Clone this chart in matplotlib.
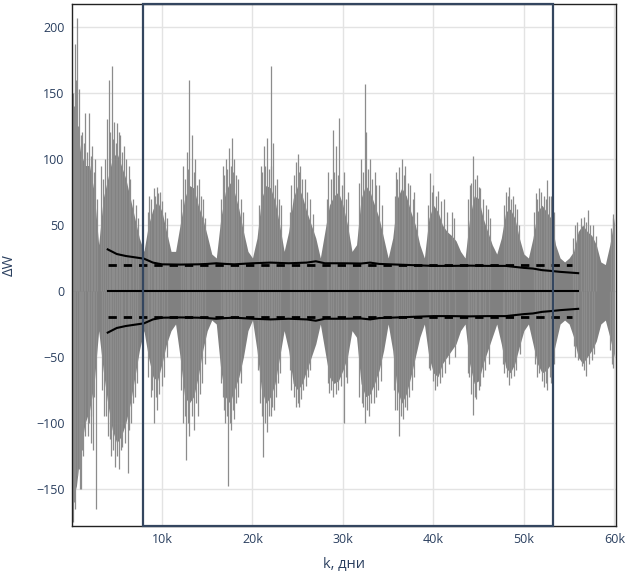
import matplotlib
matplotlib.use("Agg")
import matplotlib.pyplot as plt
import numpy as np

# envelope of the dense signal, read every 500 days (k in thousands)
k_env = np.arange(0, 60.5, 0.5)
upper = [120, 130, 105, 95, 95, 75, 35, 70, 85, 100, 105, 95, 85, 70, 55, 40,
         30, 50, 62, 68, 60, 45, 30, 30, 50, 70, 80, 78, 65, 55, 42, 28,
         25, 55, 75, 82, 75, 62, 45, 30, 25, 40, 70, 80, 78, 68, 50, 30,
         45, 70, 80, 72, 60, 50, 40, 25, 45, 65, 72, 75, 65, 50, 30, 35,
         70, 80, 75, 65, 55, 40, 25, 40, 70, 78, 72, 60, 50, 35, 25, 55,
         65, 60, 50, 45, 42, 38, 30, 25, 55, 72, 70, 55, 45, 35, 28, 40,
         60, 62, 55, 40, 28, 25, 40, 60, 65, 60, 55, 35, 25, 22, 25, 30,
         45, 50, 45, 42, 35, 22, 20, 35, 55]
lower = [-130, -150, -120, -100, -90, -70, -30, -60, -85, -105, -115, -110, -100, -85, -65, -45,
         -30, -50, -65, -68, -55, -40, -30, -25, -50, -80, -85, -80, -65, -45, -30, -22,
         -25, -60, -80, -85, -75, -65, -50, -30, -22, -45, -75, -85, -80, -70, -50, -30,
         -45, -70, -75, -70, -60, -50, -40, -25, -45, -65, -70, -68, -60, -50, -30, -35,
         -70, -80, -78, -70, -60, -45, -25, -45, -75, -85, -78, -65, -50, -35, -25, -50,
         -62, -65, -55, -50, -45, -40, -30, -25, -55, -70, -68, -55, -45, -35, -25, -40,
         -58, -62, -55, -42, -30, -25, -40, -55, -62, -60, -55, -40, -25, -22, -25, -35,
         -50, -55, -50, -45, -38, -25, -22, -35, -50]

# spikes above zero (k in thousands, value): tall ones, then medium ones
spike_k = [0.2, 0.4, 0.6, 0.8, 1.2, 1.5, 1.95, 2.3, 2.6,
           3.3, 3.9, 4.14, 4.44, 4.7, 5.0, 5.4, 5.8, 6.3, 6.8,
           8.6, 9.1, 9.4, 9.8, 10.3,
           12.3, 12.8, 13.0, 13.3, 13.7, 14.1, 14.5,
           16.7, 17.1, 17.4, 17.7, 18.0, 18.4, 19.0,
           20.9, 21.3, 21.6, 22.0, 22.3, 22.7, 23.2,
           24.3, 24.8, 25.0, 25.3, 25.8, 26.4,
           28.4, 28.9, 29.2, 29.6, 30.1, 30.6,
           32.0, 32.4, 32.6, 33.0, 33.5, 34.0,
           35.9, 36.2, 36.5, 36.9, 37.4, 37.9,
           39.6, 40.0, 40.5, 41.2, 42.0,
           44.0, 44.4, 44.8, 45.0, 45.5, 46.0,
           48.0, 48.4, 48.8, 49.2,
           51.3, 51.7, 52.2, 52.6, 53.0,
           55.6, 56.3, 57.1, 57.6, 59.8,
           0.1, 0.3, 0.5, 0.7, 1.0, 1.4, 1.7, 2.1, 2.45, 2.8,
           3.5, 3.7, 4.3, 4.6, 4.9, 5.2, 5.6, 6.0, 6.5, 7.1, 7.4,
           8.4, 8.8, 9.2, 9.6, 10.0, 10.6,
           12.1, 12.5, 12.9, 13.5, 13.9, 14.3, 14.8,
           16.5, 16.9, 17.2, 17.6, 17.9, 18.2, 18.7,
           20.7, 21.1, 21.4, 21.8, 22.1, 22.5, 22.9,
           24.1, 24.6, 25.1, 25.5, 26.0, 26.7,
           28.2, 28.7, 29.0, 29.4, 29.9, 30.3,
           31.8, 32.2, 32.8, 33.2, 33.7, 34.3,
           35.7, 36.0, 36.7, 37.2, 37.7, 38.2,
           39.4, 39.8, 40.3, 40.8, 41.5, 42.3,
           43.8, 44.2, 44.6, 45.2, 45.8, 46.3,
           47.8, 48.2, 48.6, 49.0, 49.5,
           51.1, 51.5, 51.9, 52.4, 52.8, 53.3,
           55.4, 55.9, 56.6, 56.9, 57.3, 58.0, 59.6, 59.9]
spike_v = [150, 187, 207, 153, 120, 135, 135, 110, 100,
           95, 130, 160, 170, 128, 127, 118, 110, 95, 70,
           72, 78, 79, 75, 60,
           95, 105, 160, 118, 100, 85, 70,
           95, 100, 108, 116, 100, 85, 60,
           95, 110, 116, 170, 112, 85, 65,
           80, 98, 104, 95, 85, 70,
           90, 122, 110, 131, 90, 75,
           100, 157, 120, 100, 90, 80,
           90, 94, 100, 95, 80, 75,
           89, 80, 76, 70, 60,
           80, 102, 88, 79, 70, 62,
           75, 79, 72, 62,
           74, 78, 72, 84, 72,
           50, 55, 61, 50, 55,
           130, 140, 160, 125, 118, 112, 105, 102, 90, 70,
           85, 100, 120, 115, 112, 120, 105, 100, 85, 65, 55,
           60, 70, 72, 74, 68, 55,
           70, 85, 92, 90, 80, 72, 55,
           70, 88, 92, 95, 90, 88, 70,
           65, 90, 95, 92, 95, 80, 70,
           60, 88, 90, 85, 75, 58,
           70, 85, 90, 88, 80, 70,
           82, 90, 92, 85, 80, 65,
           72, 85, 88, 82, 70, 60,
           65, 75, 72, 68, 60, 55,
           70, 82, 85, 78, 65, 55,
           65, 72, 70, 66, 50,
           60, 70, 75, 70, 72, 60,
           40, 52, 56, 52, 50, 42, 48, 58]

# spikes below zero
dip_k = [0.2, 0.4, 0.9, 1.1, 1.3, 1.8, 2.1, 2.75, 2.4,
         3.6, 4.0, 4.4, 4.8, 5.3, 5.6, 6.25, 6.6, 7.0,
         8.8, 9.1, 9.5, 10.0,
         12.3, 12.7, 13.0, 13.5, 14.0, 14.4,
         16.7, 17.0, 17.3, 17.6, 18.0, 18.4,
         20.8, 21.2, 21.6, 22.0, 22.4, 22.8,
         24.3, 24.8, 25.1, 25.6, 26.1,
         28.5, 28.9, 29.5, 30.1, 30.5,
         32.1, 32.4, 32.9, 33.4, 33.9,
         35.8, 36.2, 36.6, 37.1, 37.6,
         39.6, 40.2, 40.7, 41.3,
         43.9, 44.4, 44.7, 45.2, 45.7,
         47.8, 48.4, 48.9,
         51.5, 52.2, 52.6, 53.0,
         55.7, 56.4, 56.9, 57.5, 59.7,
         0.1, 0.3, 0.6, 0.8, 1.2, 1.5, 1.9, 2.2, 2.5,
         3.4, 3.8, 4.2, 4.6, 5.0, 5.5, 5.9, 6.4, 6.8, 7.2,
         8.5, 8.9, 9.3, 9.7, 10.2, 10.6,
         12.1, 12.5, 12.9, 13.3, 13.8, 14.2, 14.7,
         16.5, 16.9, 17.2, 17.5, 17.9, 18.2, 18.7,
         20.6, 21.0, 21.4, 21.8, 22.2, 22.6, 23.0,
         24.1, 24.6, 25.0, 25.4, 25.9, 26.4,
         28.3, 28.7, 29.2, 29.8, 30.3,
         31.8, 32.2, 32.7, 33.1, 33.6, 34.2,
         35.6, 36.0, 36.4, 36.9, 37.3, 37.9,
         39.5, 39.9, 40.4, 41.0, 41.7, 42.4,
         43.8, 44.2, 44.6, 45.0, 45.5, 46.1,
         47.7, 48.1, 48.6, 49.1, 49.6,
         51.2, 51.7, 52.0, 52.4, 52.9, 53.3,
         55.5, 56.0, 56.6, 57.2, 57.8, 59.5, 59.9]
dip_v = [-175, -165, -150, -150, -125, -110, -115, -165, -120,
         -95, -110, -125, -133, -135, -118, -138, -100, -80,
         -80, -100, -90, -72,
         -100, -128, -110, -105, -95, -70,
         -80, -100, -148, -105, -97, -80,
         -85, -126, -107, -95, -90, -70,
         -75, -88, -88, -75, -65,
         -77, -80, -75, -100, -70,
         -85, -100, -95, -85, -75,
         -90, -110, -97, -90, -75,
         -60, -75, -70, -62,
         -65, -94, -82, -72, -60,
         -62, -71, -64,
         -65, -73, -75, -70,
         -50, -57, -64, -52, -55,
         -150, -160, -140, -135, -120, -110, -100, -95, -80,
         -75, -95, -112, -120, -125, -120, -115, -105, -85, -70,
         -65, -75, -80, -78, -65, -50,
         -75, -95, -100, -95, -85, -78, -55,
         -70, -90, -95, -100, -90, -85, -70,
         -60, -95, -100, -95, -88, -80, -62,
         -60, -80, -85, -82, -72, -60,
         -70, -75, -78, -72, -65,
         -80, -88, -90, -85, -80, -68,
         -75, -90, -95, -88, -80, -65,
         -58, -68, -72, -65, -55, -50,
         -62, -78, -80, -75, -65, -55,
         -55, -65, -66, -60, -48,
         -55, -62, -68, -70, -65, -55,
         -42, -52, -60, -55, -48, -45, -58]

# running standard deviation and level lines
std_k = [4, 5, 6, 7, 8, 9, 10, 12, 14, 15, 16, 17, 18, 20, 22, 24, 26, 27, 28,
         30, 32, 33, 34, 36, 38, 40, 42, 44, 46, 48, 50, 51, 52, 53, 54, 55, 56]
std_v = [31.5, 28, 26.5, 25.5, 24.5, 21.5, 20.2, 20, 20.2, 20.5, 21, 20.5, 20.2,
         21, 21.5, 21, 21.5, 22.5, 21, 21, 20.8, 21.5, 20.5, 20, 19.5, 19, 19,
         19.2, 19, 19, 17.5, 17, 15.8, 15.2, 14.5, 14, 13.5]
level = 20
mean_span = (4, 56)
level_span = (4, 55.3)
window = (7.93, 53.24)

txt = '#2a3f5f'
plt.rcParams['font.family'] = ['Open Sans', 'DejaVu Sans']

fig = plt.figure(figsize=(6.33, 5.71), dpi=100)
ax = fig.add_axes([0.113, 0.0793, 0.8597, 0.9142])

kx = np.array(k_env) * 1000
ax.fill_between(kx, lower, upper, color='#808080', lw=0, zorder=2)
ax.vlines(np.array(spike_k) * 1000, 0, spike_v, color='#8c8c8c', lw=0.9, zorder=2)
ax.vlines(np.array(dip_k) * 1000, dip_v, 0, color='#8c8c8c', lw=0.9, zorder=2)

sk = np.array(std_k) * 1000
sv = np.array(std_v)
ax.plot(sk, sv, color='black', lw=1.5, zorder=4)
ax.plot(sk, -sv, color='black', lw=1.5, zorder=4)
ax.plot([mean_span[0] * 1000, mean_span[1] * 1000], [0, 0], color='black', lw=1.5, zorder=4)
for s in (1, -1):
    ax.plot([level_span[0] * 1000, level_span[1] * 1000], [s * level, s * level],
            color='black', lw=2, ls=(0, (3, 2.5)), zorder=4)

ylo, yhi = -177.7, 217.5
ax.add_patch(plt.Rectangle((window[0] * 1000, ylo), (window[1] - window[0]) * 1000,
                           yhi - ylo, fill=False, ec='#34465f', lw=1.6, zorder=5, clip_on=False))

ax.set_xlim(0, 60150)
ax.set_ylim(ylo, yhi)
ax.set_xticks([10000, 20000, 30000, 40000, 50000, 60000])
ax.set_xticklabels(['10k', '20k', '30k', '40k', '50k', '60k'])
yt = [-150, -100, -50, 0, 50, 100, 150, 200]
ax.set_yticks(yt)
ax.set_yticklabels([str(v).replace('-', '\u2212') for v in yt])
ax.grid(True, color='#e3e3e3', lw=1, zorder=0)
ax.set_axisbelow(True)
ax.tick_params(length=0, labelsize=9, colors=txt, pad=5)
for sp in ax.spines.values():
    sp.set_color('#222222')
    sp.set_linewidth(1)
ax.set_xlabel('k, дни', fontsize=10.5, color=txt, labelpad=8)
ax.set_ylabel('\u0394W', fontsize=10.5, color=txt, labelpad=14)

fig.savefig('out.png', dpi=100)
